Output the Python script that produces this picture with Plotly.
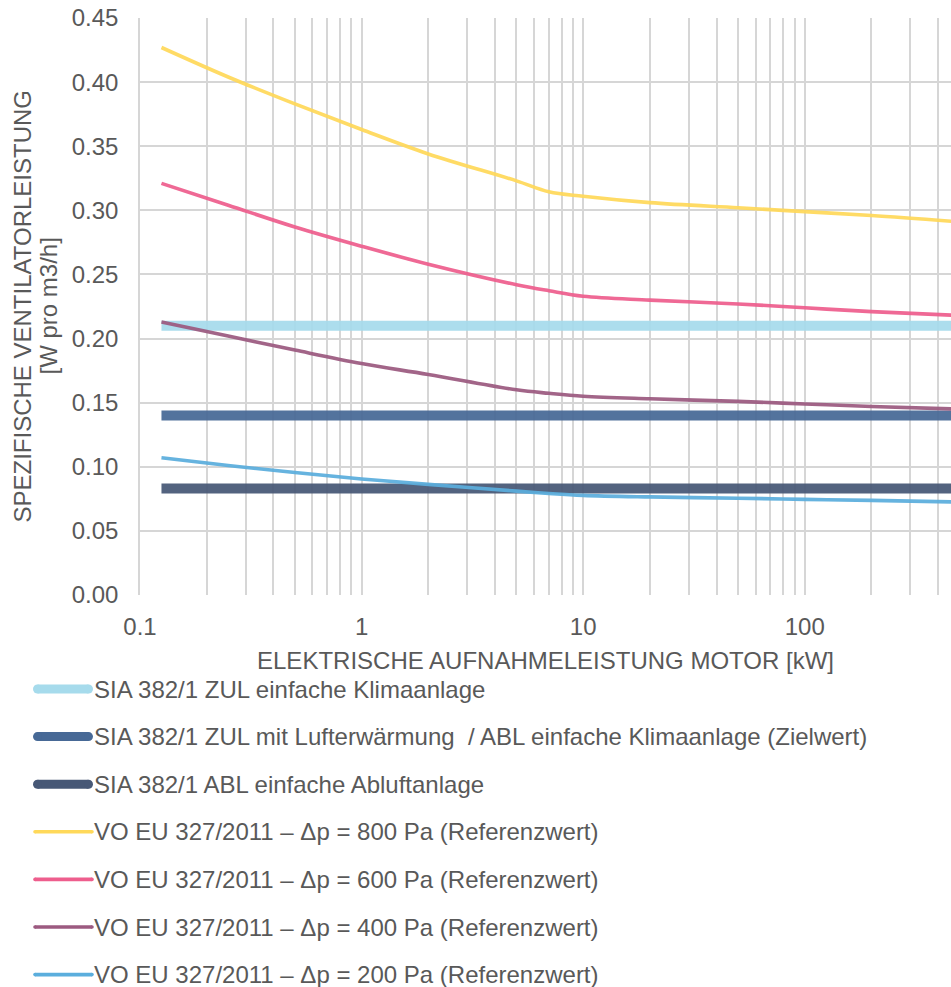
import math
import plotly.graph_objects as go

# Motor input power [kW] at which the reference curves are evaluated
power_kw = [0.125, 0.25, 0.5, 1, 2, 5, 7, 10, 20, 50, 100, 200, 500]

# Specific fan power, VO EU 327/2011 reference values [W pro m3/h]
vo_800 = [0.427, 0.404, 0.383, 0.363, 0.344, 0.323, 0.3145, 0.311, 0.306, 0.302, 0.299, 0.296, 0.291]
vo_600 = [0.321, 0.304, 0.287, 0.272, 0.258, 0.242, 0.2373, 0.233, 0.230, 0.227, 0.224, 0.221, 0.218]
vo_400 = [0.213, 0.202, 0.191, 0.1805, 0.172, 0.160, 0.1573, 0.155, 0.153, 0.151, 0.149, 0.147, 0.145]
vo_200 = [0.107, 0.101, 0.0955, 0.0905, 0.0863, 0.081, 0.0792, 0.0777, 0.0765, 0.0755, 0.0746, 0.0738, 0.0725]

# SIA 382/1 limit values (constant over power) [W pro m3/h]
sia_power = [0.125, 500]
sia_zul_klima = 0.21
sia_zul_lufterw = 0.14
sia_abl = 0.083

series = [
    ("SIA 382/1 ZUL einfache Klimaanlage", sia_power, [sia_zul_klima] * 2, "#A6DBEC", 10, "linear"),
    ("SIA 382/1 ZUL mit Lufterwärmung  / ABL einfache Klimaanlage (Zielwert)", sia_power, [sia_zul_lufterw] * 2, "#476996", 10, "linear"),
    ("SIA 382/1 ABL einfache Abluftanlage", sia_power, [sia_abl] * 2, "#475876", 10, "linear"),
    ("VO EU 327/2011 – Δp = 800 Pa (Referenzwert)", power_kw, vo_800, "#FFD95A", 3.6, "spline"),
    ("VO EU 327/2011 – Δp = 600 Pa (Referenzwert)", power_kw, vo_600, "#EE5E8D", 3.6, "spline"),
    ("VO EU 327/2011 – Δp = 400 Pa (Referenzwert)", power_kw, vo_400, "#9C5A80", 3.6, "spline"),
    ("VO EU 327/2011 – Δp = 200 Pa (Referenzwert)", power_kw, vo_200, "#5BAEDD", 3.6, "spline"),
]

W, H = 951, 987
M_L, M_R, M_T, M_B = 140, 0, 18, 392
PW, PH = W - M_L - M_R, H - M_T - M_B
FONT = "Liberation Sans, Arial, sans-serif"
TXT = "#595959"
GRID = "#D6D6D6"
FS = 24


def px_x(x):
    return (x - M_L) / PW


def px_y(y):
    return (H - M_B - y) / PH


fig = go.Figure()
for name, xs, ys, color, width, shape in series:
    fig.add_trace(go.Scatter(
        x=xs, y=ys, mode="lines", name=name,
        line=dict(color=color, width=width, shape=shape, smoothing=1.0),
        opacity=0.93, showlegend=False, hoverinfo="x+y+name",
    ))

# Rounded start caps of the SIA limit lines
for name, xs, ys, color, width, shape in series[:3]:
    fig.add_shape(type="circle", xref="x", yref="y",
                  xsizemode="pixel", ysizemode="pixel",
                  xanchor=math.log10(xs[0]), yanchor=ys[0],
                  x0=-width / 2, x1=width / 2, y0=-width / 2, y1=width / 2,
                  fillcolor=color, opacity=0.93, line=dict(width=0), layer="above")

# Log grid: a line at every 1..9 multiple, labels only on decades
grid_vals, grid_text = [], []
for e in range(-1, 3):
    for m in range(1, 10):
        grid_vals.append(m * 10 ** e)
        grid_text.append(f"{10 ** e:g}" if m == 1 else "")

fig.update_xaxes(
    type="log", range=[-1, 2.66],
    tickvals=grid_vals, ticktext=grid_text,
    showgrid=True, gridcolor=GRID, gridwidth=1.7,
    showline=False, zeroline=False, ticks="", ticklabelstandoff=15,
    tickfont=dict(family=FONT, size=FS, color=TXT),
    title=dict(text="ELEKTRISCHE AUFNAHMELEISTUNG MOTOR [kW]",
               font=dict(family=FONT, size=FS, color=TXT), standoff=13),
)
fig.update_yaxes(
    range=[0, 0.45], dtick=0.05, tickformat=".2f",
    showgrid=True, gridcolor=GRID, gridwidth=1.7,
    showline=True, linecolor=GRID, linewidth=1.7,
    zeroline=False, ticks="", ticklabelstandoff=15,
    tickfont=dict(family=FONT, size=FS, color=TXT),
)

annotations = [
    dict(text="SPEZIFISCHE VENTILATORLEISTUNG", x=px_x(22), y=0.5, textangle=-90),
    dict(text="[W pro m3/h]", x=px_x(48), y=0.5, textangle=-90),
]
shapes = list(fig.layout.shapes)

# Legend drawn as a vertical list below the chart
row_y0, row_step = 689, 47.6
for i, (name, _, _, color, width, _) in enumerate(series):
    cy = px_y(row_y0 + i * row_step)
    lw = 9 if width > 5 else 3.6
    x0, x1 = (33 + lw / 2, 93 - lw / 2) if lw > 5 else (35, 92)
    shapes.append(dict(type="line", xref="paper", yref="paper",
                       x0=px_x(x0), x1=px_x(x1), y0=cy, y1=cy,
                       line=dict(color=color, width=lw)))
    for xe in (x0, x1):
        shapes.append(dict(type="circle", xref="paper", yref="paper",
                           xsizemode="pixel", ysizemode="pixel",
                           xanchor=px_x(xe), yanchor=cy,
                           x0=-lw / 2, x1=lw / 2, y0=-lw / 2, y1=lw / 2,
                           fillcolor=color, line=dict(width=0)))
    annotations.append(dict(text=name, x=px_x(92), y=cy, xanchor="left"))

for a in annotations:
    a.setdefault("xanchor", "center")
    a.update(xref="paper", yref="paper", yanchor="middle", showarrow=False,
             font=dict(family=FONT, size=FS, color=TXT))

fig.update_layout(
    width=W, height=H,
    margin=dict(l=M_L, r=M_R, t=M_T, b=M_B),
    paper_bgcolor="white", plot_bgcolor="white",
    showlegend=False,
    annotations=annotations, shapes=shapes,
)

fig.write_html("out.html")
